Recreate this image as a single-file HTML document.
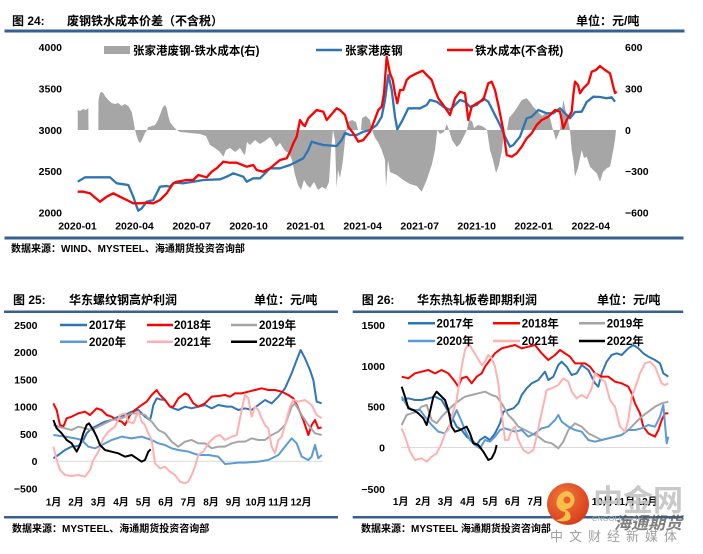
<!DOCTYPE html>
<html><head><meta charset="utf-8">
<style>
html,body{margin:0;padding:0;background:#fff;}
svg{display:block;}
text{font-family:"Liberation Sans","Noto Sans CJK SC",sans-serif;font-weight:bold;fill:#000;}
.ax{font-size:10.5px;}
.xl{font-size:10px;}
.lg{font-size:11.5px;}
.tt{font-size:12px;}
.src{font-size:10px;}
</style></head><body>
<svg width="703" height="554" viewBox="0 0 703 554" xmlns="http://www.w3.org/2000/svg">
<defs>
<radialGradient id="wg" cx="0.4" cy="0.35" r="0.7">
<stop offset="0" stop-color="#F27A3A"/>
<stop offset="1" stop-color="#D63A1E"/>
</radialGradient>
</defs>

<!-- ===== TOP CHART ===== -->
<text class="tt" x="12" y="25">图 24:</text>
<text class="tt" x="67" y="25">废钢铁水成本价差（不含税）</text>
<text class="tt" x="576" y="25">单位：元/吨</text>
<rect x="4.5" y="29.5" width="680" height="3" fill="#365f92"/>

<!-- grey area -->
<polygon fill="#A6A6A6" points="77.7,130 77.7,110 80,111 83,109 86,110 88.3,108 88.5,130 98.3,130 98.5,100 100,93 101.5,91.7 103.3,93 105,96 108.3,100 111.7,103 115,104 118.3,103 121.7,106 125,104 128.3,106 131.7,112 133.3,120 135,130 136.7,136 138.3,141 140,143.3 142,140 145,133 147,130 148.3,127 152,126 155,125 158,120 160,115 161.7,110 163,107 165,105 166.7,108 168,115 170,122 173,126 176.7,130 180,132 190,133 200,134 206,136 210,145 215,148 220,152 223.3,156.7 226,150 230,148 235,152 240,148 243,153 245,155 247,142 250,145 255,140 260,144 265,141 270,137 273,141 276,147 280,143 285,151 289,153 292,160 295,175 298,185 301,190 304,180 307,185 310,188 314,182 318,190 322,187 326,189 329,182 331,150 333,130 335,140 336.5,188 338,170 340,178 343,160 345,140 346.5,130 348,122 352,120 356,122 358,130 361,130 362,118 366,116 370,120 372,130 375,138 378,142 381.7,150 385,160 386,186.7 388,160 390,172 396.7,175 403.3,180 410,184 416.7,186 421.7,191.7 426.7,180 431.7,165 435,150 437.3,130 440,134 444,132 446.7,124 449,130 452,140 456.7,147 460,144 464,136 467,130 469,120 472,121 474,128 478,125 482,126 485,128 487,130 490,150 493,160 496,173 499,165 502,150 504,130 507,130 509,118 514,112 518,106 521.7,100 526.7,98.3 530,102 533.3,106.7 538.3,112 542,116 546,113 550,118 553,130 556,140 558,135 560,130 562,110 563.3,100 565,108 568,120 570,130 571.7,150 573.3,160 575,176.7 578,168 581.7,150 584,158 586.7,156.7 590,166.7 593.3,170 596.7,173.3 600,181.7 603,172 607,168 610,166.7 613.3,150 615,140 616,130"/>

<!-- blue -->
<polyline fill="none" stroke="#2E75B6" stroke-width="2.3" stroke-linejoin="round" points="77.7,181.7 85,177.3 110,177.3 116.7,183.3 128.3,185 133.3,196.7 136.7,206.7 138.3,210.7 141.7,208.3 146.7,201.7 153.3,200 156.7,193.3 160,186.7 166.7,186 170,186.7 173.3,183.3 176.7,182.7 183.3,183.3 193.3,181.7 203.3,180 220,179.3 226.7,176.7 233.3,173.3 243.3,176.7 246.7,181.7 253.3,178.3 260,178.3 270,168.3 280,168.3 290,165 296.7,161.7 303.3,158.3 308.3,150 311.7,141.7 316.7,143.3 323.3,145 336.7,146 341.7,140 345,133 350,135 356.7,135 363.3,131.7 370,130 376.7,125 381.7,116.7 385,100 388.3,75 391.7,90 395,116.7 397.3,129.3 401.7,121.7 408.3,108.3 420,108.3 426.7,105 430,100 436.7,101.7 443.3,106.7 450,110 455,105 460,100 465,101.7 470,106.7 476.7,105 483.3,98.3 488.3,101.7 493.3,111.7 500,125 505,136.7 510,146.7 513.3,145 520,136.7 526.7,118.3 531.7,116.7 538.3,110 546.7,113.3 553.3,113.3 560,108.3 566.7,115 570,118.3 575,112 581.7,111.7 586.7,102 593.3,96.7 600,97 606.7,98.3 611.7,97.3 615,101.7"/>

<!-- red -->
<polyline fill="none" stroke="#FF0000" stroke-width="2.3" stroke-linejoin="round" points="77.7,191.7 83.3,191.7 90,193.3 100,201.7 106.7,196.7 113.3,193.3 120,196.7 126.7,200 133.3,203.3 140,203.3 146.7,202.7 153.3,203.3 160,200 166.7,193.3 173.3,183.3 176.7,181.7 186.7,180 193.3,180 198.3,175 206.7,177.3 211.7,171.7 216.7,168.3 223.3,161.7 230,162.7 236.7,162.7 246.7,166.7 253.3,165 256.7,170 263.3,171.7 270,168.3 280,160 286.7,158.3 290,151.7 293.3,143.3 296.7,136.7 300,120 303.3,125 305,126 308.3,118.3 316.7,110 323.3,111.7 326.7,120 336.7,108.3 340,110 345,115 348.3,126.7 353.3,133.3 358.3,141.7 363.3,140 370,131.7 373.3,123.3 378.3,110 381.7,106.7 384,93.3 386.7,56.7 390,73.3 392.7,80 395,93.3 397.3,103.3 400,90 403.3,90 406.7,80 410,76.7 416.7,73.3 422.7,70.7 426.7,75 431.7,80 435,90 438.3,98.3 443.3,105 450,115 455,98.3 460,91.7 465,93.3 468.3,120 471.7,106.7 476.7,103.3 483.3,100 488.3,83.3 491.7,81.7 495,90 498.3,105 503.3,130 506.7,155 511.7,156.7 516.7,153.3 521.7,146.7 526.7,138.3 531.7,133.3 536.7,125 541.7,120 548.3,116.7 555,110 560,111.7 563.3,128.3 566.7,120 571.7,111.7 573.3,95 575,81.7 578,85 580,93.3 583.3,88.3 588.3,83.3 591.7,71.7 596,70 600,66 605,70 610,73.3 613.3,86.7 615,93 616.7,91.7"/>

<!-- legend top -->
<rect x="104" y="46" width="26" height="8" fill="#A6A6A6"/>
<text class="lg" x="133" y="54.5">张家港废钢-铁水成本(右)</text>
<line x1="316" y1="50" x2="342" y2="50" stroke="#2E75B6" stroke-width="2.5"/>
<text class="lg" x="345" y="54.5">张家港废钢</text>
<line x1="447" y1="50" x2="473" y2="50" stroke="#FF0000" stroke-width="2.5"/>
<text class="lg" x="475" y="54.5">铁水成本(不含税)</text>

<!-- axes labels top -->
<g class="ax" text-anchor="end">
<text x="62" y="51.2">4000</text>
<text x="62" y="92.6">3500</text>
<text x="62" y="133.8">3000</text>
<text x="62" y="175.2">2500</text>
<text x="62" y="216.5">2000</text>
</g>
<g class="ax">
<text x="625" y="51.2">600</text>
<text x="625" y="92.6">300</text>
<text x="625" y="133.8">0</text>
<text x="625" y="175.2">−300</text>
<text x="625" y="216.5">−600</text>
</g>
<g class="ax" text-anchor="middle">
<text x="77.5" y="229.5">2020-01</text>
<text x="134.5" y="229.5">2020-04</text>
<text x="191.6" y="229.5">2020-07</text>
<text x="248.6" y="229.5">2020-10</text>
<text x="305.6" y="229.5">2021-01</text>
<text x="362.7" y="229.5">2021-04</text>
<text x="419.7" y="229.5">2021-07</text>
<text x="476.7" y="229.5">2021-10</text>
<text x="533.7" y="229.5">2022-01</text>
<text x="590.8" y="229.5">2022-04</text>
</g>
<rect x="4.5" y="236.5" width="679" height="3" fill="#365f92"/>
<text class="src" x="11" y="252">数据来源：WIND、MYSTEEL、海通期货投资咨询部</text>

<!-- ===== CHART 25 ===== -->
<text class="tt" x="13" y="304">图 25:</text>
<text class="tt" x="69" y="304">华东螺纹钢高炉利润</text>
<text class="tt" x="254" y="304">单位：元/吨</text>
<rect x="4" y="310.5" width="334" height="2.5" fill="#365f92"/>

<g class="ax" text-anchor="end">
<text x="37.5" y="328.8">2500</text>
<text x="37.5" y="356.1">2000</text>
<text x="37.5" y="383.3">1500</text>
<text x="37.5" y="410.6">1000</text>
<text x="37.5" y="437.8">500</text>
<text x="37.5" y="465.1">0</text>
<text x="37.5" y="492.4">−500</text>
</g>
<line x1="53" y1="461.3" x2="323" y2="461.3" stroke="#D9D9D9" stroke-width="1"/>

<g transform="translate(45,340) scale(0.33333)" fill="none" stroke-width="6" stroke-linejoin="round">
<polyline stroke="#2E75B6" points="25,355 40,345 60,330 80,320 100,318 115,300 125,280 140,265 160,255 180,245 200,240 220,230 240,225 260,215 280,210 300,230 315,240 320,220 325,195 335,175 345,178 360,180 375,200 385,205 400,210 420,200 440,205 460,200 480,195 500,205 520,195 545,200 560,200 580,210 600,205 620,210 640,195 660,180 680,190 700,170 720,145 740,100 755,60 767,30 780,55 795,90 805,120 815,185 830,190"/>
<polyline stroke="#FF0000" points="25,190 35,210 45,255 55,260 65,235 80,230 100,220 120,215 135,225 155,205 170,210 185,225 200,230 215,240 230,245 240,255 255,225 270,210 290,195 305,185 320,165 335,150 345,165 360,180 375,200 385,200 400,175 420,160 430,165 445,190 460,200 480,190 500,170 520,168 540,165 555,170 570,160 590,160 610,155 630,150 650,145 670,150 690,150 710,155 730,165 745,175 760,205 775,240 790,285 800,255 810,240 820,265 830,262"/>
<polyline stroke="#A5A5A5" points="25,255 40,260 60,265 80,270 100,260 120,265 140,270 160,260 180,250 200,240 230,235 260,220 280,220 300,225 320,245 340,270 360,280 380,305 400,320 420,305 440,300 460,310 480,310 500,325 520,320 540,320 560,310 580,305 600,305 620,295 640,300 660,300 680,285 700,275 720,255 740,200 750,190 770,225 790,255 810,280 830,285"/>
<polyline stroke="#5B9BD5" points="25,285 60,290 90,295 110,300 130,320 150,325 170,315 200,300 230,290 260,295 290,290 320,300 340,310 360,315 380,325 400,330 430,335 460,345 490,345 520,350 540,372 560,370 580,368 600,368 640,365 670,360 700,345 720,320 740,295 755,310 770,350 790,360 800,350 810,315 820,355 830,345"/>
<polyline stroke="#FFB0B0" points="25,320 35,360 45,390 60,405 80,408 100,405 120,410 135,390 145,360 160,335 175,295 190,275 210,260 225,225 240,220 250,245 265,250 280,215 290,245 300,255 310,280 320,300 330,370 345,385 360,380 375,395 390,405 405,425 420,430 430,425 440,405 450,380 460,345 475,335 490,310 510,290 525,285 540,300 560,290 575,285 590,210 600,165 610,175 620,230 630,200 640,210 650,235 660,255 670,265 680,320 690,340 700,300 710,290 720,255 735,200 745,180 760,185 780,180 800,195 815,225 830,235"/>
<polyline stroke="#000000" points="25,240 35,265 50,280 65,300 80,310 95,335 105,315 115,280 125,255 132,250 145,270 155,290 165,315 180,330 200,335 220,340 240,350 260,345 275,355 290,365 300,360 310,335 317,328"/>
</g>

<!-- legend 25 -->
<g stroke-width="2.5">
<line x1="60" y1="325" x2="87" y2="325" stroke="#2E75B6"/>
<line x1="147" y1="325" x2="173" y2="325" stroke="#FF0000"/>
<line x1="231" y1="325" x2="257" y2="325" stroke="#A5A5A5"/>
<line x1="60" y1="341.7" x2="87" y2="341.7" stroke="#5B9BD5"/>
<line x1="147" y1="341.7" x2="173" y2="341.7" stroke="#FFB0B0"/>
<line x1="231" y1="341.7" x2="257" y2="341.7" stroke="#000000"/>
</g>
<g class="lg">
<text x="89" y="329.2">2017年</text>
<text x="174" y="329.2">2018年</text>
<text x="259" y="329.2">2019年</text>
<text x="89" y="345.9">2020年</text>
<text x="174" y="345.9">2021年</text>
<text x="259" y="345.9">2022年</text>
</g>

<g class="xl" text-anchor="middle">
<text x="53.5" y="505.5">1月</text>
<text x="76" y="505.5">2月</text>
<text x="98.5" y="505.5">3月</text>
<text x="121" y="505.5">4月</text>
<text x="143.5" y="505.5">5月</text>
<text x="166" y="505.5">6月</text>
<text x="188.5" y="505.5">7月</text>
<text x="211" y="505.5">8月</text>
<text x="233.5" y="505.5">9月</text>
<text x="256" y="505.5">10月</text>
<text x="278.5" y="505.5">11月</text>
<text x="301" y="505.5">12月</text>
</g>
<rect x="4" y="516" width="334" height="2.5" fill="#365f92"/>
<text class="src" x="12" y="532">数据来源：MYSTEEL、海通期货投资咨询部</text>

<!-- ===== CHART 26 ===== -->
<text class="tt" x="361.7" y="304">图 26:</text>
<text class="tt" x="417" y="304">华东热轧板卷即期利润</text>
<text class="tt" x="597" y="304">单位：元/吨</text>
<rect x="352.7" y="310.5" width="330.5" height="2.5" fill="#365f92"/>

<g class="ax" text-anchor="end">
<text x="385" y="328.8">1500</text>
<text x="385" y="369.8">1000</text>
<text x="385" y="410.5">500</text>
<text x="385" y="451.5">0</text>
<text x="385" y="492.8">−500</text>
</g>
<line x1="401" y1="447.5" x2="670" y2="447.5" stroke="#D9D9D9" stroke-width="1"/>

<g transform="translate(395,330) scale(0.33333)" fill="none" stroke-width="6" stroke-linejoin="round">
<polyline stroke="#2E75B6" points="20,210 40,205 60,210 80,210 100,205 120,200 140,210 160,245 175,270 185,290 200,300 215,320 230,330 245,345 255,330 270,320 285,330 300,310 315,280 325,245 340,240 355,235 370,220 380,195 395,175 410,160 430,150 450,125 460,150 475,140 490,105 500,95 515,110 530,135 545,130 560,105 580,120 600,160 610,170 620,130 635,95 650,75 665,70 680,75 700,55 715,45 730,55 745,70 760,80 780,90 795,100 805,130 820,140"/>
<polyline stroke="#FF0000" points="20,140 40,145 60,130 80,125 100,120 120,130 140,120 160,130 180,155 190,170 200,145 215,140 230,160 245,140 260,130 270,110 285,90 300,70 320,55 340,50 360,45 380,55 400,50 420,45 440,70 460,90 480,75 495,60 510,70 525,80 540,100 555,100 570,100 585,110 600,130 620,140 640,140 660,155 680,160 700,170 710,190 720,220 735,250 745,290 760,310 780,320 790,300 800,270 810,250 820,250"/>
<polyline stroke="#A5A5A5" points="20,285 35,255 50,250 65,245 80,230 95,225 110,270 125,280 140,260 160,240 175,225 195,210 210,200 230,195 250,190 270,185 290,195 305,200 320,220 340,255 355,270 370,290 390,300 410,310 430,320 450,335 470,340 490,355 505,335 520,300 540,280 560,290 580,310 600,320 620,330 640,325 660,320 680,315 700,300 720,280 740,260 760,245 780,230 800,220 820,215"/>
<polyline stroke="#5B9BD5" points="20,200 35,225 50,240 60,240 75,240 90,260 110,285 130,305 150,310 170,275 185,240 200,275 210,300 225,330 240,345 255,355 270,330 285,335 300,320 315,300 330,295 345,300 360,305 380,300 400,320 420,310 440,295 460,290 480,270 490,255 500,275 520,290 540,300 560,305 580,330 600,335 620,330 640,325 660,320 680,315 700,300 720,300 740,295 760,285 780,290 795,260 805,225 815,340 820,320"/>
<polyline stroke="#FFB0B0" points="20,295 30,320 45,365 60,390 80,385 95,395 110,380 125,370 140,340 150,310 160,300 170,260 185,210 200,110 210,60 220,40 230,55 245,80 260,105 270,95 280,75 290,85 300,110 310,160 320,250 330,330 340,330 350,300 360,290 370,330 385,360 400,370 415,360 425,320 435,270 445,225 455,180 470,175 490,165 505,145 520,155 530,185 545,205 560,195 575,205 590,175 600,130 615,145 630,155 645,210 660,230 675,290 690,305 700,270 710,200 720,175 735,130 750,100 765,95 780,110 800,160 810,165 820,160"/>
<polyline stroke="#000000" points="20,170 30,200 40,235 55,240 70,250 85,265 95,285 105,245 115,200 125,185 135,195 150,210 160,240 170,290 180,305 195,300 215,290 225,310 235,340 250,345 265,365 280,390 290,385 300,365 305,345"/>
</g>

<!-- legend 26 -->
<g stroke-width="2.5">
<line x1="408" y1="323.3" x2="435" y2="323.3" stroke="#2E75B6"/>
<line x1="493" y1="323.3" x2="520" y2="323.3" stroke="#FF0000"/>
<line x1="579" y1="323.3" x2="605" y2="323.3" stroke="#A5A5A5"/>
<line x1="408" y1="341" x2="435" y2="341" stroke="#5B9BD5"/>
<line x1="493" y1="341" x2="520" y2="341" stroke="#FFB0B0"/>
<line x1="579" y1="341" x2="605" y2="341" stroke="#000000"/>
</g>
<g class="lg">
<text x="436.5" y="327.5">2017年</text>
<text x="521.7" y="327.5">2018年</text>
<text x="606.7" y="327.5">2019年</text>
<text x="436.5" y="345.2">2020年</text>
<text x="521.7" y="345.2">2021年</text>
<text x="606.7" y="345.2">2022年</text>
</g>

<g class="xl" text-anchor="middle">
<text x="400.7" y="505">1月</text>
<text x="423.1" y="505">2月</text>
<text x="445.5" y="505">3月</text>
<text x="467.9" y="505">4月</text>
<text x="490.3" y="505">5月</text>
<text x="512.7" y="505">6月</text>
<text x="535.1" y="505">7月</text>
<text x="557.5" y="505">8月</text>
<text x="579.9" y="505">9月</text>
<text x="602.3" y="505">10月</text>
<text x="624.7" y="505">11月</text>
<text x="647.1" y="505">12月</text>
</g>
<rect x="352.7" y="516" width="330.5" height="2.5" fill="#365f92"/>
<text class="src" x="361" y="532">数据来源：MYSTEEL 海通期货投资咨询部</text>

<!-- ===== WATERMARK ===== -->
<text x="593" y="511" style="font-size:30px;fill:#C4C4C4;opacity:0.9">中金网</text>
<circle cx="568" cy="504" r="21" fill="url(#wg)"/>
<path d="M566,491 a9,9 0 1 1 -1,18 c4,2 7,6 5,10 c-3,3 -10,3 -14,1 c6,-1 10,-4 9,-8 c-6,-1 -10,-6 -8,-12 c1,-5 5,-8 9,-9 z" fill="#F7BE4A"/>
<circle cx="567" cy="500" r="3.5" fill="#E8602E"/>
<text x="592" y="521" style="font-size:7.5px;font-weight:normal;fill:#AAAAAA">CNGOLD.COM.CN</text>
<text x="614" y="529" style="font-size:17px;font-style:italic;fill:#555555;opacity:0.75">海通期货</text>
<text x="550" y="541" style="font-size:13px;font-weight:normal;fill:#A0A0A0;letter-spacing:6px">中文财经新媒体</text>
</svg>
</body></html>
